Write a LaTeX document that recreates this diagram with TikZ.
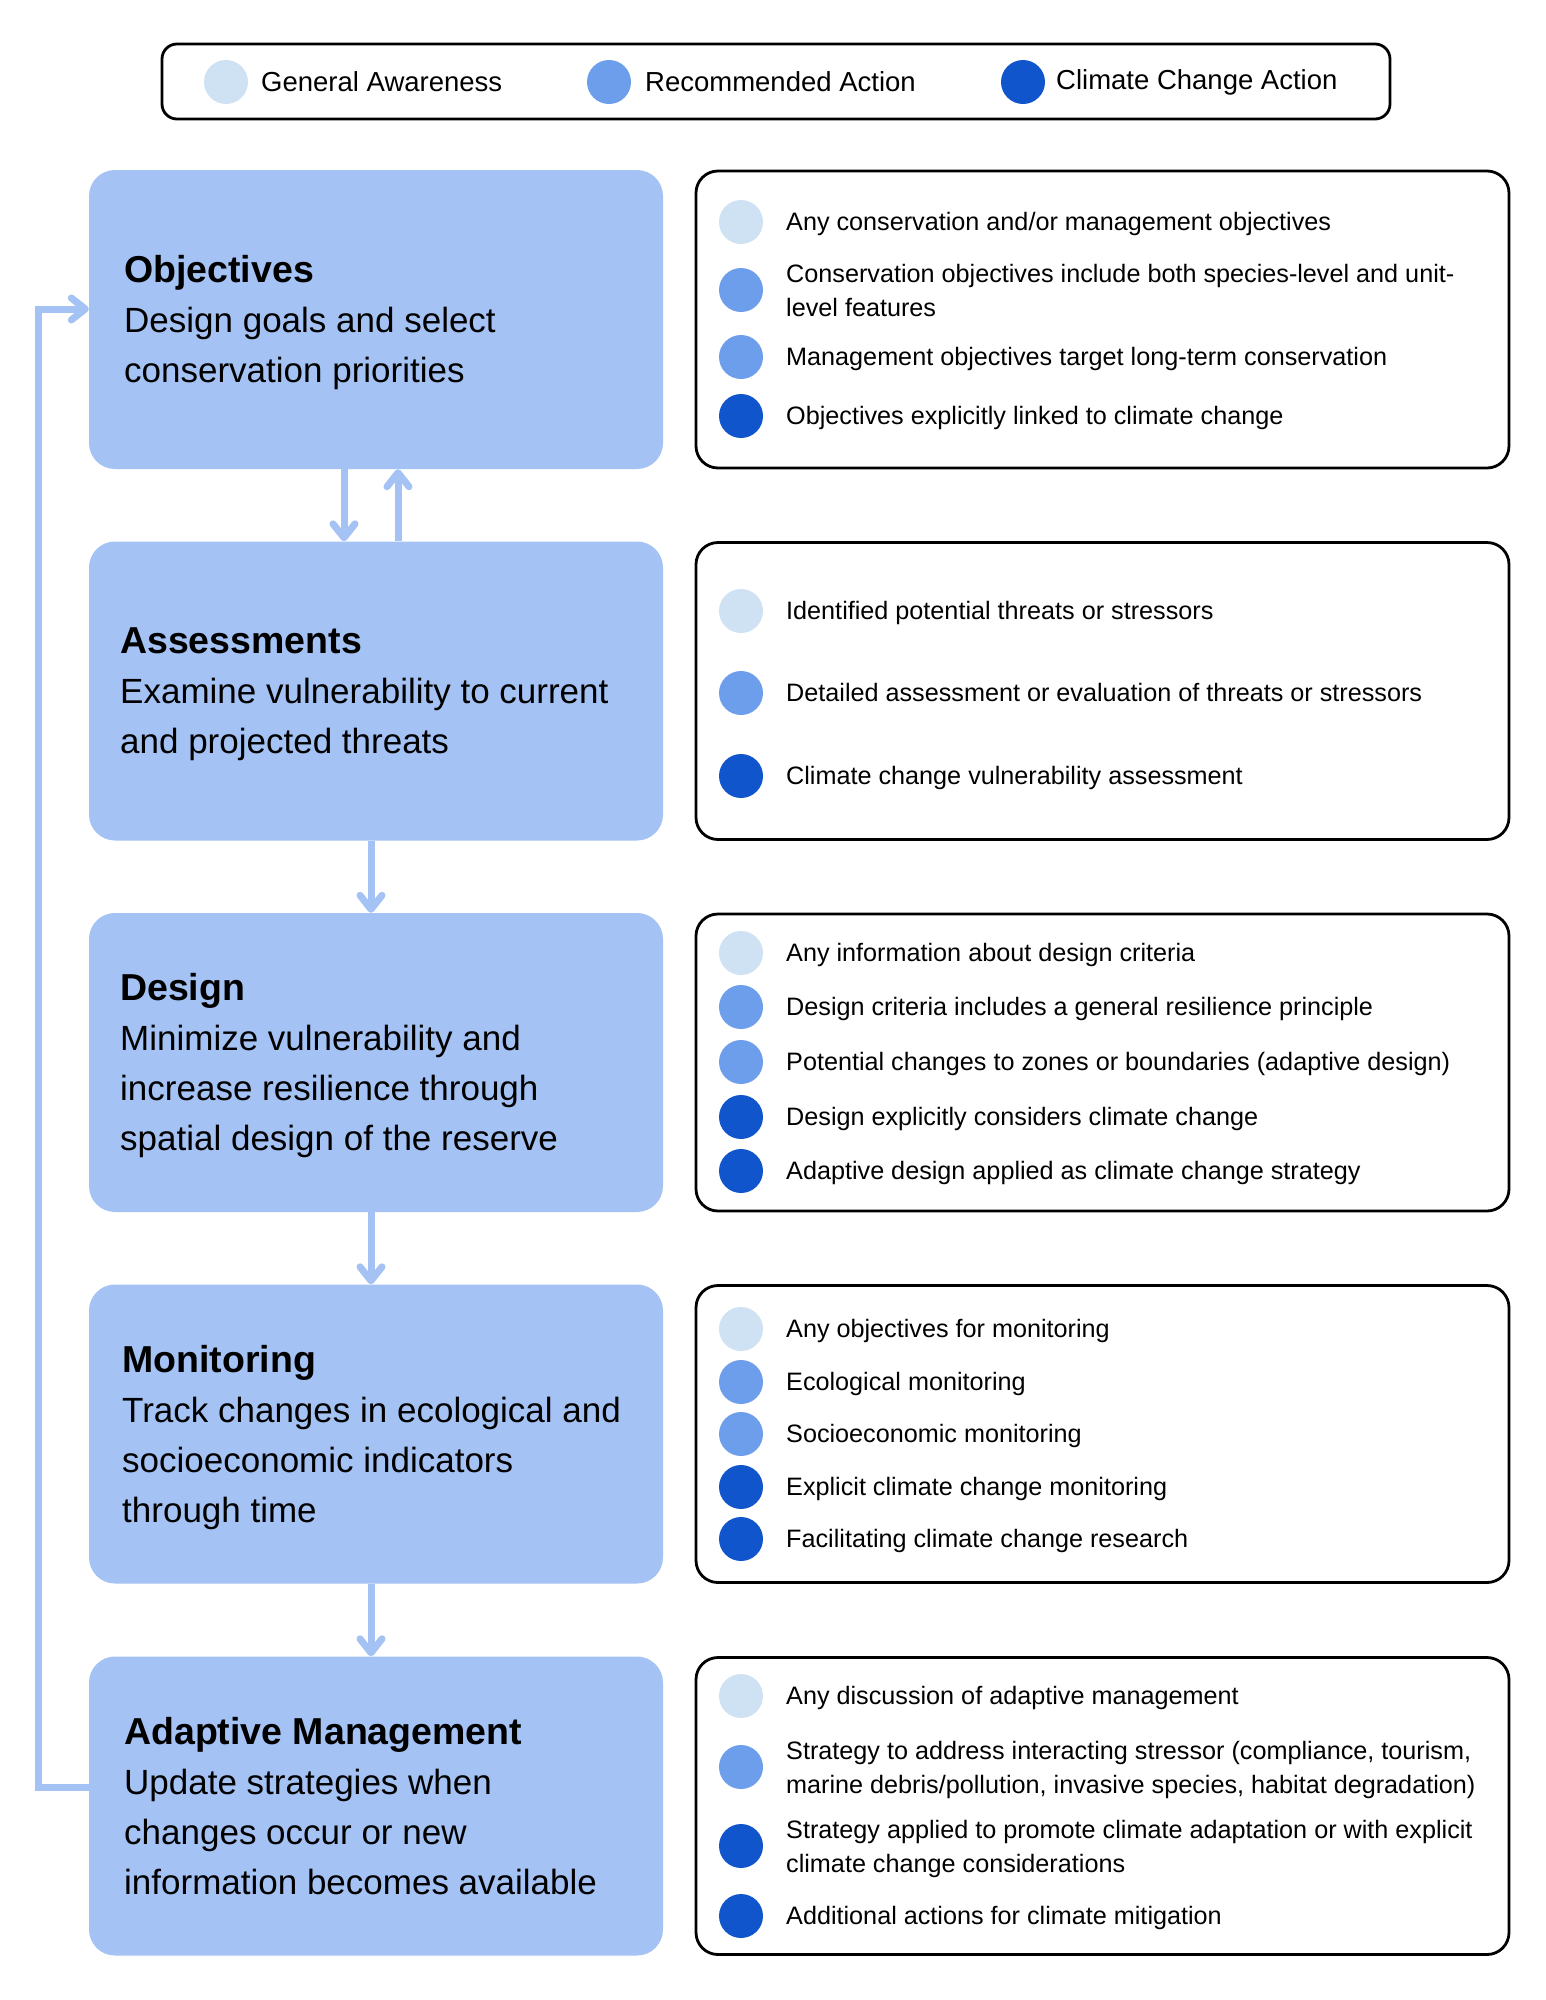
\documentclass[tikz,border=0pt]{standalone}
\usepackage{fontspec}
\setmainfont{Liberation Sans}
\usetikzlibrary{arrows.meta}

\definecolor{stageblue}{HTML}{A4C2F4}
\definecolor{lvlaware}{HTML}{CFE2F3}
\definecolor{lvlrec}{HTML}{6D9EEB}
\definecolor{lvlclim}{HTML}{1155CC}

% heading face used in the stage boxes
\newcommand\stagehead{\fontsize{37.5}{50}\selectfont\bfseries}

\begin{document}
\begin{tikzpicture}[x=1pt,y=-1pt,
  stage/.style={draw=none, fill=stageblue, rounded corners=26pt,
    minimum width=574pt, minimum height=299pt, inner sep=0pt},
  checklist/.style={draw=black, line width=2.8pt, rounded corners=22pt,
    minimum width=813pt, minimum height=297pt, inner sep=0pt},
  stagetext/.style={anchor=west, align=left, inner sep=0pt, yshift=-7pt,
    font=\fontsize{35}{50}\selectfont,
    execute at begin node=\strut, execute at end node=\strut},
  itemtext/.style={anchor=west, align=left, inner sep=0pt, yshift=-1.5pt,
    font=\fontsize{25.2}{34}\selectfont,
    execute at begin node=\strut, execute at end node=\strut},
  twolines/.style={yshift=-3.5pt},
  legendtext/.style={anchor=west, inner sep=0pt, font=\fontsize{27.5}{34}\selectfont},
  leveldot/.style={circle, minimum size=44pt, inner sep=0pt, draw=none},
  aware/.style={leveldot, fill=lvlaware},
  recommended/.style={leveldot, fill=lvlrec},
  climate/.style={leveldot, fill=lvlclim},
  flow/.style={draw=stageblue, line width=7pt,
    -{Straight Barb[length=14pt,width=22pt,round]}},
]
\fill[white] (0,0) rectangle (1545,2000);
\useasboundingbox (0,0) rectangle (1545,2000);

% legend
\node[draw=black, line width=2.8pt, rounded corners=15pt, minimum width=1228pt,
  minimum height=75pt, inner sep=0pt] (legend) at (776,81.5) {};
\node[aware] (lgaware) at (226,82) {};
\node[legendtext] (lgawaretext) at (261,82) {General Awareness};
\node[recommended] (lgrec) at (609,82) {};
\node[legendtext] (lgrectext) at (645,82) {Recommended Action};
\node[climate] (lgclim) at (1023,82) {};
\node[legendtext] (lgclimtext) at (1056,82) {Climate Change Action};

% stage boxes
\node[stage] (obj) at (376,319.5) {};
\node[stage] (assess) at (376,691) {};
\node[stage] (design) at (376,1062.5) {};
\node[stage] (monitor) at (376,1434) {};
\node[stage] (adapt) at (376,1806) {};

\node[stagetext] (objtext) at (124,319.5)
  {{\stagehead Objectives}\\Design goals and select\\conservation priorities};
\node[stagetext] (assesstext) at (120,691)
  {{\stagehead Assessments}\\Examine vulnerability to current\\and projected threats};
\node[stagetext] (designtext) at (120,1062.5)
  {{\stagehead Design}\\Minimize vulnerability and\\increase resilience through\\spatial design of the reserve};
\node[stagetext] (monitortext) at (122,1434)
  {{\stagehead Monitoring}\\Track changes in ecological and\\socioeconomic indicators\\through time};
\node[stagetext] (adapttext) at (124,1806)
  {{\stagehead Adaptive Management}\\Update strategies when\\changes occur or new\\information becomes available};

% checklist boxes
\node[checklist] (objlist) at (1102.5,319.5) {};
\node[checklist] (assesslist) at (1102.5,691) {};
\node[checklist] (designlist) at (1102.5,1062.5) {};
\node[checklist] (monitorlist) at (1102.5,1434) {};
\node[checklist] (adaptlist) at (1102.5,1806) {};

% objectives checklist
\node[aware] (o1) at (741,222) {};
\node[itemtext] (o1t) at (786,222) {Any conservation and/or management objectives};
\node[recommended] (o2) at (741,290) {};
\node[itemtext,twolines] (o2t) at (786,290) {Conservation objectives include both species-level and unit-\\level features};
\node[recommended] (o3) at (741,357) {};
\node[itemtext] (o3t) at (786,357) {Management objectives target long-term conservation};
\node[climate] (o4) at (741,416) {};
\node[itemtext] (o4t) at (786,416) {Objectives explicitly linked to climate change};

% assessments checklist
\node[aware] (a1) at (741,611) {};
\node[itemtext] (a1t) at (786,611) {Identified potential threats or stressors};
\node[recommended] (a2) at (741,693) {};
\node[itemtext] (a2t) at (786,693) {Detailed assessment or evaluation of threats or stressors};
\node[climate] (a3) at (741,776) {};
\node[itemtext] (a3t) at (786,776) {Climate change vulnerability assessment};

% design checklist
\node[aware] (d1) at (741,953) {};
\node[itemtext] (d1t) at (786,953) {Any information about design criteria};
\node[recommended] (d2) at (741,1007) {};
\node[itemtext] (d2t) at (786,1007) {Design criteria includes a general resilience principle};
\node[recommended] (d3) at (741,1062) {};
\node[itemtext] (d3t) at (786,1062) {Potential changes to zones or boundaries (adaptive design)};
\node[climate] (d4) at (741,1117) {};
\node[itemtext] (d4t) at (786,1117) {Design explicitly considers climate change};
\node[climate] (d5) at (741,1171) {};
\node[itemtext] (d5t) at (786,1171) {Adaptive design applied as climate change strategy};

% monitoring checklist
\node[aware] (m1) at (741,1329) {};
\node[itemtext] (m1t) at (786,1329) {Any objectives for monitoring};
\node[recommended] (m2) at (741,1382) {};
\node[itemtext] (m2t) at (786,1382) {Ecological monitoring};
\node[recommended] (m3) at (741,1434) {};
\node[itemtext] (m3t) at (786,1434) {Socioeconomic monitoring};
\node[climate] (m4) at (741,1487) {};
\node[itemtext] (m4t) at (786,1487) {Explicit climate change monitoring};
\node[climate] (m5) at (741,1539) {};
\node[itemtext] (m5t) at (786,1539) {Facilitating climate change research};

% adaptive management checklist
\node[aware] (p1) at (741,1696) {};
\node[itemtext] (p1t) at (786,1696) {Any discussion of adaptive management};
\node[recommended] (p2) at (741,1767) {};
\node[itemtext,twolines] (p2t) at (786,1767) {Strategy to address interacting stressor (compliance, tourism,\\marine debris/pollution, invasive species, habitat degradation)};
\node[climate] (p3) at (741,1846) {};
\node[itemtext,twolines] (p3t) at (786,1846) {Strategy applied to promote climate adaptation or with explicit\\climate change considerations};
\node[climate] (p4) at (741,1916) {};
\node[itemtext] (p4t) at (786,1916) {Additional actions for climate mitigation};

% flow between stages
\draw[flow] ([xshift=-32pt]obj.south) -- ([xshift=-32pt]assess.north);
\draw[flow] ([xshift=22pt]assess.north) -- ([xshift=22pt]obj.south);
\draw[flow] ([xshift=-5pt]assess.south) -- ([xshift=-5pt]design.north);
\draw[flow] ([xshift=-5pt]design.south) -- ([xshift=-5pt]monitor.north);
\draw[flow] ([xshift=-5pt]monitor.south) -- ([xshift=-5pt]adapt.north);

% feedback loop back to objectives
\coordinate (loopx) at (38,0);
\coordinate (loopstart) at ([yshift=19pt]adapt.west);
\coordinate (loopend) at ([yshift=10.5pt]obj.west);
\draw[flow] (loopstart) -- (loopstart -| loopx) |- (loopend);
\end{tikzpicture}
\end{document}
